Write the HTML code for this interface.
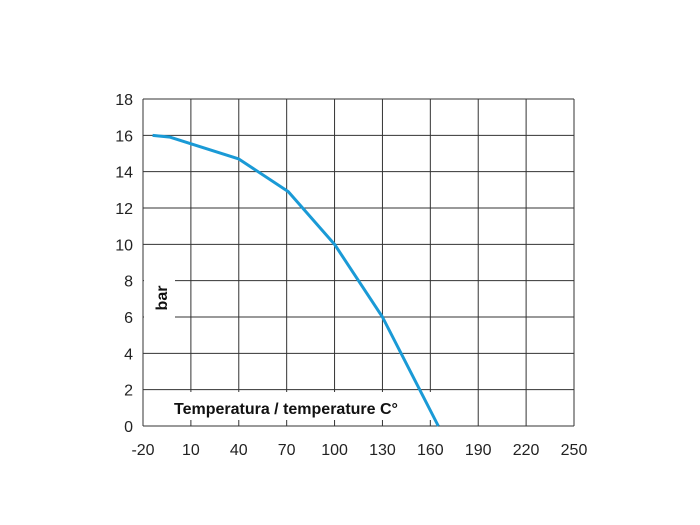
<!DOCTYPE html>
<html><head><meta charset="utf-8"><style>
body{margin:0;background:#fff}
svg text{font-family:"Liberation Sans",Arial,sans-serif}
</style></head><body>
<svg id="c" width="700" height="520" viewBox="0 0 700 520"></svg>
<script>
const xTicks=[-20,10,40,70,100,130,160,190,220,250];
const yTicks=[0,2,4,6,8,10,12,14,16,18];
const temps=[-14,-3,40,71,100,130,165];
const pressures=[16,15.9,14.7,12.9,10,6,0];
const X0=143,X1=574,Y0=426,Y1=99;
const xs=v=>X0+(v+20)/270*(X1-X0);
const ys=v=>Y0-v/18*(Y0-Y1);
const svg=document.getElementById('c');
const NS='http://www.w3.org/2000/svg';
function mk(t,a,p){const e=document.createElementNS(NS,t);for(const k in a)e.setAttribute(k,a[k]);(p||svg).appendChild(e);return e;}
const grid=mk('g',{stroke:'#333','stroke-width':1});


xTicks.forEach(v=>{const l=mk('line',{x1:xs(v),x2:xs(v),y1:Y1,y2:Y0},grid);


const t=mk('text',{x:xs(v),y:455,'text-anchor':'middle','font-size':16,fill:'#222'});t.textContent=v;

});
yTicks.forEach(v=>{const l=mk('line',{x1:X0,x2:X1,y1:ys(v),y2:ys(v)},grid);


const t=mk('text',{x:133,y:ys(v)+6,'text-anchor':'end','font-size':16,fill:'#222'});t.textContent=v;

});
const b1=mk('rect',{x:144,y:270,width:31,height:54,fill:'#fff'});


const b2=mk('rect',{x:144,y:392,width:290,height:28,fill:'#fff'});


mk('line',{x1:X0,x2:X0,y1:Y1,y2:Y0,stroke:'#333'});
const yt=mk('text',{x:0,y:0,transform:'translate(167,298) rotate(-90)','text-anchor':'middle','font-size':16,'font-weight':'bold',fill:'#111'});yt.textContent='bar';


const xt=mk('text',{x:174,y:414,'font-size':16,'font-weight':'bold',fill:'#111'});xt.textContent='Temperatura / temperature C°';


const pl=mk('polyline',{points:temps.map((t,i)=>xs(t)+','+ys(pressures[i])).join(' '),fill:'none',stroke:'#1a9ad6','stroke-width':3,'stroke-linejoin':'round'});


</script>
</body></html>
